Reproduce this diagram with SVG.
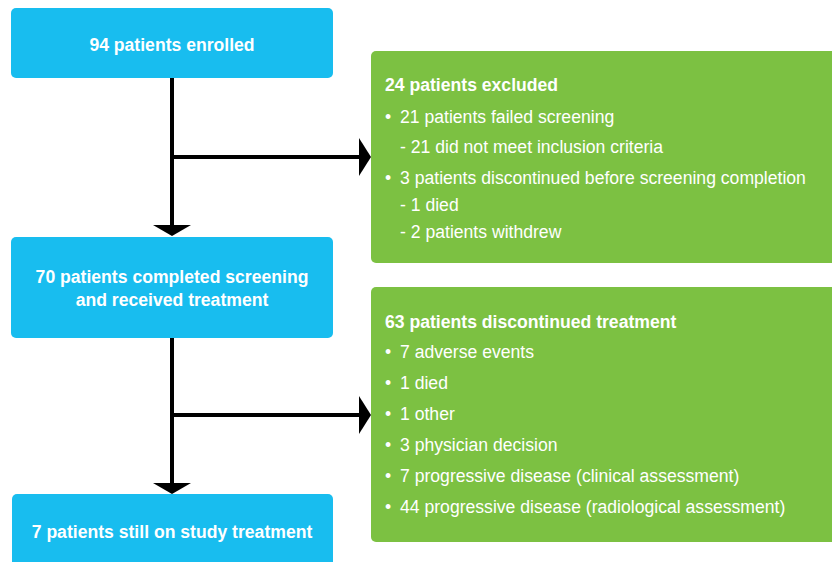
<svg xmlns="http://www.w3.org/2000/svg" width="832" height="562" viewBox="0 0 832 562">
<style>
.blue{fill:#18BDEF}
.green{fill:#7CC142}
text{font-family:"Liberation Sans",Arial,sans-serif;font-size:17.6px;fill:#fff}
.b{font-weight:bold}
.c{text-anchor:middle}
.ln{stroke:#000;stroke-width:4;fill:none}
</style>
<defs>
<polygon id="ad" points="-19,0 19,0 0,11" fill="#000"/>
<polygon id="ar" points="0,-19 0,19 12,0" fill="#000"/>
</defs>
<g id="connectors">
<line class="ln" x1="172" y1="78" x2="172" y2="226"/>
<line class="ln" x1="172" y1="157" x2="360" y2="157"/>
<use href="#ad" x="172" y="225"/>
<use href="#ar" x="359" y="157"/>
<line class="ln" x1="172" y1="338" x2="172" y2="484"/>
<line class="ln" x1="172" y1="415" x2="360" y2="415"/>
<use href="#ad" x="172" y="483"/>
<use href="#ar" x="359" y="415"/>
</g>
<g id="enrolled">
<rect class="blue" x="11" y="8" width="322" height="70" rx="5"/>
<text class="b c" x="172" y="51">94 patients enrolled</text>
</g>
<g id="completed">
<rect class="blue" x="11" y="237" width="322" height="101" rx="5"/>
<text class="b c" x="172" y="283">70 patients completed screening</text>
<text class="b c" x="172" y="306">and received treatment</text>
</g>
<g id="still">
<rect class="blue" x="12" y="494" width="321" height="80" rx="5"/>
<text class="b c" x="172" y="538">7 patients still on study treatment</text>
</g>
<g id="excluded">
<rect class="green" x="371" y="51" width="470" height="212" rx="5"/>
<text class="b" x="385" y="91">24 patients excluded</text>
<text x="385" y="123">•</text><text x="400" y="123">21 patients failed screening</text>
<text x="400" y="153">- 21 did not meet inclusion criteria</text>
<text x="385" y="184">•</text><text x="400" y="184">3 patients discontinued before screening completion</text>
<text x="400" y="211">- 1 died</text>
<text x="400" y="238">- 2 patients withdrew</text>
</g>
<g id="discontinued">
<rect class="green" x="371" y="287" width="470" height="255" rx="5"/>
<text class="b" x="385" y="328">63 patients discontinued treatment</text>
<text x="385" y="358">•</text><text x="400" y="358">7 adverse events</text>
<text x="385" y="389">•</text><text x="400" y="389">1 died</text>
<text x="385" y="420">•</text><text x="400" y="420">1 other</text>
<text x="385" y="451">•</text><text x="400" y="451">3 physician decision</text>
<text x="385" y="482">•</text><text x="400" y="482">7 progressive disease (clinical assessment)</text>
<text x="385" y="513">•</text><text x="400" y="513">44 progressive disease (radiological assessment)</text>
</g>
</svg>
